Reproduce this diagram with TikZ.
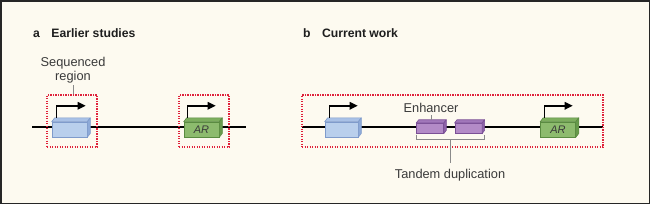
\documentclass[tikz,border=0pt]{standalone}
\usepackage{fontspec}
\setmainfont{Liberation Sans}
\usepackage{xcolor}
\usetikzlibrary{positioning,arrows.meta}

\definecolor{cream}{HTML}{FDFAF0}
\definecolor{frame}{HTML}{262626}
\definecolor{regionred}{HTML}{E0213A}
\definecolor{bluefront}{HTML}{B9CFEC}
\definecolor{bluetop}{HTML}{A9C1E6}
\definecolor{blueside}{HTML}{8EAAD8}
\definecolor{blueedge}{HTML}{7F9BCB}
\definecolor{greenfront}{HTML}{8DBB6E}
\definecolor{greentop}{HTML}{7DAE5E}
\definecolor{greenside}{HTML}{689B4C}
\definecolor{greenedge}{HTML}{5A8B41}
\definecolor{purplefront}{HTML}{B38BC7}
\definecolor{purpletop}{HTML}{A178BA}
\definecolor{purpleside}{HTML}{8E63A8}
\definecolor{purpleedge}{HTML}{7B5096}
\definecolor{leadergray}{HTML}{8A8A8A}
\definecolor{labeltext}{HTML}{3A3A3A}
\definecolor{titletext}{HTML}{1E1E1E}

% #1 name, #2 centre, #3 width, #4 height, #5 depth, #6 colour family, #7 text
\newcommand{\gene}[7]{%
  \node[genebox, fill=#6front, draw=#6edge, minimum width=#3, minimum height=#4] (#1) at #2 {};
  \filldraw[fill=#6top, draw=#6edge, line width=0.6pt, line join=round]
    (#1.north west) -- ++(#5,-1.3*#5) -- ([shift={(#5,-1.3*#5)}]#1.north east) -- (#1.north east) -- cycle;
  \filldraw[fill=#6side, draw=#6edge, line width=0.6pt, line join=round]
    (#1.north east) -- ++(#5,-1.3*#5) -- ([shift={(#5,-1.3*#5)}]#1.south east) -- (#1.south east) -- cycle;
  \node[genetext] (#1text) at (#1) {#7};
}

\begin{document}
\begin{tikzpicture}[
  x=1pt, y=-1pt,
  dna/.style={line width=2pt, black},
  region/.style={draw=regionred, line width=1.2pt, dash pattern=on 1.4pt off 1.1pt, minimum height=52pt, inner sep=0pt},
  genebox/.style={draw, line width=0.6pt, inner sep=0pt},
  genetext/.style={font=\fontsize{11}{12}\selectfont\itshape, text=labeltext, inner sep=0pt},
  prom/.style={line width=1.5pt, -{Triangle[length=8pt,width=7.5pt]}},
  leader/.style={draw=leadergray, line width=0.8pt},
  label/.style={font=\fontsize{12.8}{14}\selectfont, text=labeltext, inner sep=0pt, align=center},
  title/.style={font=\fontsize{12.2}{13}\selectfont\bfseries, text=titletext, inner sep=0pt}
]
\useasboundingbox (0,0) rectangle (650,204);
\filldraw[fill=cream, draw=frame, line width=1.5pt] (0.75,0.75) rectangle (649.25,203.25);

% panel titles
\node[title, anchor=base west] (tagA) at (33,37) {a};
\node[title, base right=11pt of tagA] (titleA) {Earlier studies};
\node[title, anchor=base west] (tagB) at (303,37) {b};
\node[title, base right=11pt of tagB] (titleB) {Current work};

% DNA
\coordinate (dnaAstart) at (32,127);
\coordinate (dnaAend) at (246,127);
\coordinate (dnaBstart) at (302,127);
\coordinate (dnaBend) at (603,127);
\draw[dna] (dnaAstart) -- (dnaAend);
\draw[dna] (dnaBstart) -- (dnaBend);

% sequenced regions
\node[region, minimum width=50pt] (regA1) at (72,121) {};
\node[region, minimum width=50pt] (regA2) at (204,121) {};
\node[region, minimum width=301pt] (regB) at (452.5,121) {};

% labels and leaders
\node[label, anchor=south] (seqLabel) at (73,83) {Sequenced\\region};
\draw[leader] ([yshift=-2pt]seqLabel.south) -- (seqLabel.south |- regA1.north);

\node[label, anchor=base] (enhLabel) at (431,112) {Enhancer};
\node[label, anchor=base] (dupLabel) at (450,178) {Tandem duplication};

% genes
\gene{blueA}{(69.5,129.5)}{35pt}{15pt}{3}{blue}{}
\gene{arA}{(201.5,129.5)}{35pt}{15pt}{3}{green}{AR}
\gene{blueB}{(341.5,129.5)}{33pt}{15pt}{3}{blue}{}
\gene{arB}{(558,129.5)}{35pt}{15pt}{3}{green}{AR}
\gene{enhA}{(430,128.3)}{27pt}{10pt}{2.5}{purple}{}
\gene{enhB}{(468.3,128.3)}{27pt}{10pt}{2.5}{purple}{}
\path (enhA.north) ++(0,-3.25) coordinate (enhAtop);
\draw[leader] ([yshift=-3pt]enhLabel.base) -- (enhLabel.base |- enhAtop);

% tandem duplication bracket
\draw[leader] ([yshift=-1pt]enhA.south west) -- ([yshift=-6pt]enhA.south west)
  -| ([xshift=2.5pt,yshift=-1pt]enhB.south east);
\coordinate (braceMid) at (450,139.3);
\draw[leader] (braceMid) -- ([yshift=5.5pt]dupLabel.north);

% promoter arrows
\draw[prom] ([xshift=5pt,yshift=3.9pt]blueA.north west) |- ++(29,-12);
\draw[prom] ([xshift=4pt,yshift=3.9pt]arA.north west) |- ++(28,-12);
\draw[prom] ([xshift=5pt,yshift=3.9pt]blueB.north west) |- ++(28,-12);
\draw[prom] ([xshift=4.5pt,yshift=3.9pt]arB.north west) |- ++(28,-12);
\end{tikzpicture}
\end{document}
